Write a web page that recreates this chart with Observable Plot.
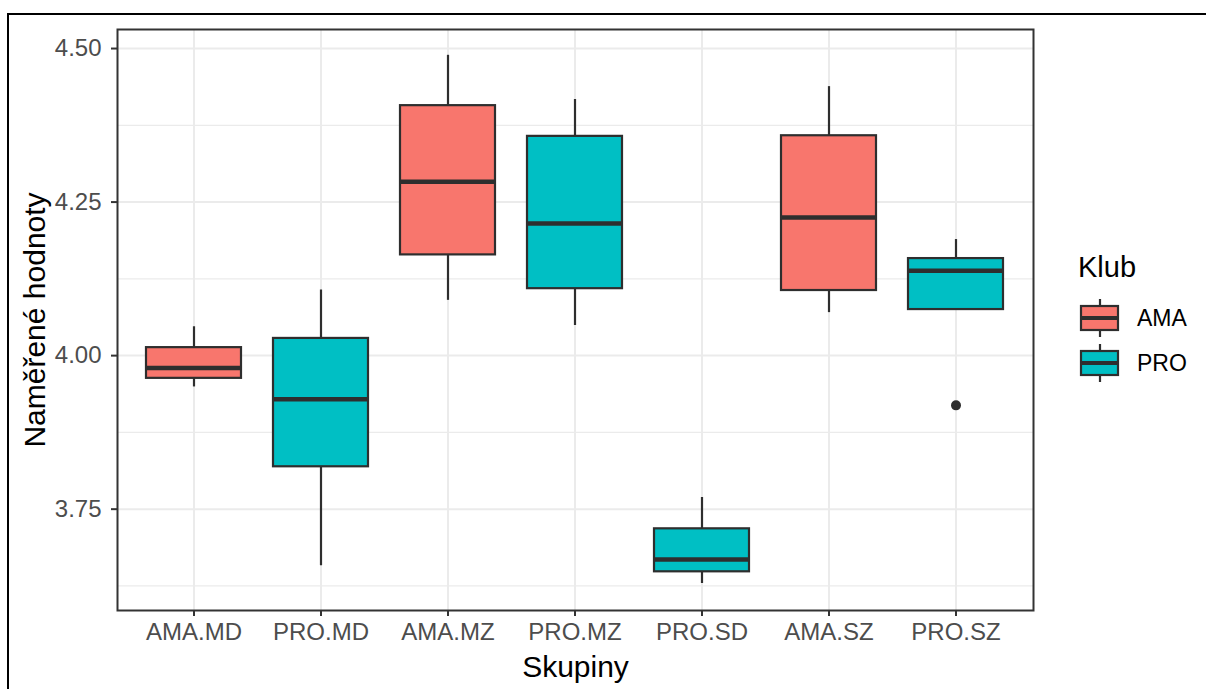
<!DOCTYPE html>
<html>
<head>
<meta charset="utf-8">
<script src="https://cdn.jsdelivr.net/npm/d3@7"></script>
<script src="https://cdn.jsdelivr.net/npm/@observablehq/plot@0.6"></script>
<style>
  html, body { margin: 0; padding: 0; background: #fff; }
  #wrap { position: relative; width: 1206px; height: 689px; overflow: hidden; }
  #frame { position: absolute; left: 7px; top: 13px; right: -4px; bottom: -4px;
           border-top: 2px solid #000; border-left: 2px solid #000; pointer-events: none; }
</style>
</head>
<body>
<div id="wrap"><div id="frame"></div></div>
<script>
// ---- data ----
const groups      = ["AMA.MD", "PRO.MD", "AMA.MZ", "PRO.MZ", "PRO.SD", "AMA.SZ", "PRO.SZ"];
const club        = ["AMA",    "PRO",    "AMA",    "PRO",    "PRO",    "AMA",    "PRO"];
const whiskerLow  = [3.949,    3.658,    4.090,    4.049,    3.629,    4.070,    4.075];
const q1          = [3.963,    3.819,    4.164,    4.109,    3.648,    4.106,    4.075];
const median      = [3.980,    3.929,    4.283,    4.215,    3.668,    4.225,    4.138];
const q3          = [4.013,    4.028,    4.407,    4.357,    3.718,    4.358,    4.158];
const whiskerHigh = [4.047,    4.107,    4.489,    4.417,    3.769,    4.438,    4.189];
const outlierGroup = ["PRO.SZ"];
const outlierValue = [3.919];
const clubs       = ["AMA", "PRO"];
const clubColors  = ["#F8766D", "#00BFC4"];
const yTicks      = [3.75, 4.00, 4.25, 4.50];
const yMinor      = [3.625, 3.875, 4.125, 4.375];
const yLimits     = [3.585, 4.531];
const xTitle = "Skupiny";
const yTitle = "Naměřené hodnoty";
const legendTitle = "Klub";

const table = groups.map((g, i) => ({
  group: g, club: club[i], lo: whiskerLow[i], q1: q1[i], med: median[i], q3: q3[i], hi: whiskerHigh[i]
}));
const outliers = outlierGroup.map((g, i) => ({group: g, value: outlierValue[i]}));

const FONT = "'Liberation Sans', Arial, sans-serif";
const dark = "#2E2E2E";
const grid = "#EBEBEB";

const chart = Plot.plot({
  width: 1206,
  height: 689,
  marginLeft: 117,
  marginRight: 173,
  marginTop: 29,
  marginBottom: 79,
  style: { fontFamily: FONT, background: "transparent" },
  x: { type: "band", domain: groups, paddingInner: 0.25, paddingOuter: 0.223, label: null },
  y: { domain: yLimits, label: null },
  color: { domain: clubs, range: clubColors },
  marks: [
    Plot.ruleY(yMinor, { stroke: grid, strokeWidth: 1.2 }),
    Plot.ruleY(yTicks, { stroke: grid, strokeWidth: 2 }),
    Plot.ruleX(groups, { x: d => d, stroke: grid, strokeWidth: 2 }),
    Plot.ruleX(table, { x: "group", y1: "lo", y2: "hi", stroke: dark, strokeWidth: 2.2 }),
    Plot.barY(table, { x: "group", y1: "q1", y2: "q3", fill: "club", stroke: dark, strokeWidth: 2.2 }),
    Plot.tickY(table, { x: "group", y: "med", stroke: dark, strokeWidth: 4.5 }),
    Plot.dot(outliers, { x: "group", y: "value", r: 5, fill: dark, stroke: "none" }),
    Plot.frame({ stroke: "#333333", strokeWidth: 2 }),
    Plot.axisY(yTicks, { tickFormat: d3.format(".2f"), tickSize: 6, tickPadding: 10,
      fontSize: 24, fill: "#4D4D4D", stroke: "#333333", strokeWidth: 2, label: null }),
    Plot.axisX(groups, { tickSize: 6, tickPadding: 6, fontSize: 24, fill: "#4D4D4D",
      stroke: "#333333", strokeWidth: 2, label: null }),
    Plot.text([xTitle], { frameAnchor: "bottom", dy: 66, fontSize: 30, fill: "#000",
      textAnchor: "middle", lineAnchor: "bottom" }),
    Plot.text([yTitle], { frameAnchor: "left", dx: -82, rotate: -90, fontSize: 30, fill: "#000",
      textAnchor: "middle", lineAnchor: "middle" })
  ]
});

document.getElementById("wrap").prepend(chart);

// ---- legend (box glyph keys) ----
const svg = d3.select(chart);
const lg = svg.append("g").attr("font-family", FONT).attr("text-anchor", "start");
lg.append("text").attr("x", 1078).attr("y", 277).attr("font-size", 29).attr("fill", "#000").text(legendTitle);
clubs.forEach((c, i) => {
  const cy = 318 + i * 45;
  const g = lg.append("g");
  g.append("line").attr("x1", 1100).attr("x2", 1100).attr("y1", cy - 19).attr("y2", cy + 19)
    .attr("stroke", dark).attr("stroke-width", 2.2);
  g.append("rect").attr("x", 1081).attr("y", cy - 12).attr("width", 37).attr("height", 24)
    .attr("fill", clubColors[i]).attr("stroke", dark).attr("stroke-width", 2.2);
  g.append("line").attr("x1", 1081).attr("x2", 1118).attr("y1", cy).attr("y2", cy)
    .attr("stroke", dark).attr("stroke-width", 4);
  g.append("text").attr("x", 1137).attr("y", cy).attr("dy", "0.35em").attr("font-size", 23)
    .attr("fill", "#000").text(c);
});
</script>
</body>
</html>
